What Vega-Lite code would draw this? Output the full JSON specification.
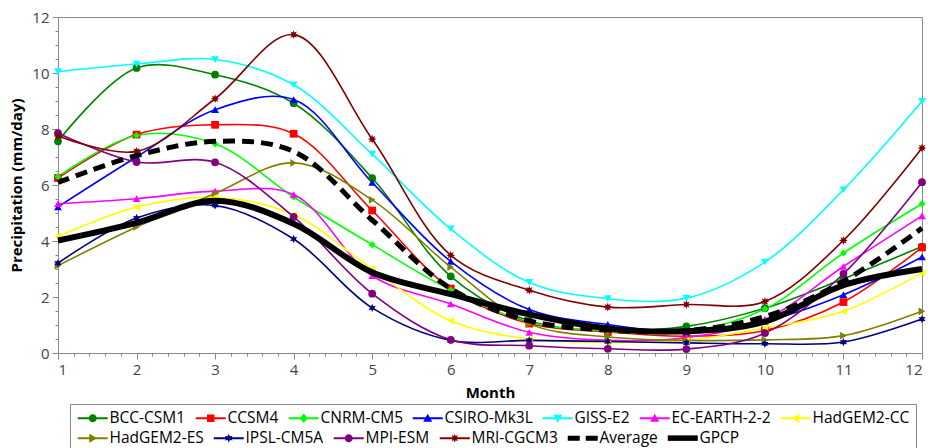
{
"$schema": "https://vega.github.io/schema/vega-lite/v6.json",
"width": 864, "height": 336,
"autosize": {"type": "none"},
"padding": {"left": 58, "top": 17, "right": 6, "bottom": 95},
"config": {"view": {"stroke": "#888", "strokeWidth": 1}, "font": "Open Sans",
  "legend": {"labelFont": "Open Sans", "labelFontSize": 15.5, "labelColor": "#000", "labelLimit": 300, "symbolSize": 100, "symbolOffset": 9, "labelOffset": 9, "columnPadding": 8, "symbolStrokeWidth": 0, "padding": 6, "direction": "horizontal", "orient": "none"},
  "axis": {"labelFont": "Open Sans", "labelFontSize": 15, "labelColor": "#444", "titleFont": "Open Sans", "titleFontSize": 15, "titleFontWeight": "bold", "titleColor": "#000", "domainColor": "#888", "tickColor": "#888", "grid": false}},
"data": {"values": [
{"Model":"BCC-CSM1","Month":1,"P":7.56},{"Model":"BCC-CSM1","Month":2,"P":10.18},{"Model":"BCC-CSM1","Month":3,"P":9.94},{"Model":"BCC-CSM1","Month":4,"P":8.92},{"Model":"BCC-CSM1","Month":5,"P":6.25},{"Model":"BCC-CSM1","Month":6,"P":2.74},{"Model":"BCC-CSM1","Month":7,"P":1.15},{"Model":"BCC-CSM1","Month":8,"P":0.8},{"Model":"BCC-CSM1","Month":9,"P":0.95},{"Model":"BCC-CSM1","Month":10,"P":1.6},{"Model":"BCC-CSM1","Month":11,"P":2.65},{"Model":"BCC-CSM1","Month":12,"P":3.8},
{"Model":"CCSM4","Month":1,"P":6.25},{"Model":"CCSM4","Month":2,"P":7.8},{"Model":"CCSM4","Month":3,"P":8.15},{"Model":"CCSM4","Month":4,"P":7.83},{"Model":"CCSM4","Month":5,"P":5.09},{"Model":"CCSM4","Month":6,"P":2.3},{"Model":"CCSM4","Month":7,"P":1.05},{"Model":"CCSM4","Month":8,"P":0.75},{"Model":"CCSM4","Month":9,"P":0.6},{"Model":"CCSM4","Month":10,"P":0.8},{"Model":"CCSM4","Month":11,"P":1.82},{"Model":"CCSM4","Month":12,"P":3.77},
{"Model":"CNRM-CM5","Month":1,"P":6.3},{"Model":"CNRM-CM5","Month":2,"P":7.77},{"Model":"CNRM-CM5","Month":3,"P":7.47},{"Model":"CNRM-CM5","Month":4,"P":5.57},{"Model":"CNRM-CM5","Month":5,"P":3.87},{"Model":"CNRM-CM5","Month":6,"P":2.25},{"Model":"CNRM-CM5","Month":7,"P":1.1},{"Model":"CNRM-CM5","Month":8,"P":0.78},{"Model":"CNRM-CM5","Month":9,"P":0.75},{"Model":"CNRM-CM5","Month":10,"P":1.57},{"Model":"CNRM-CM5","Month":11,"P":3.57},{"Model":"CNRM-CM5","Month":12,"P":5.33},
{"Model":"CSIRO-Mk3L","Month":1,"P":5.22},{"Model":"CSIRO-Mk3L","Month":2,"P":7.0},{"Model":"CSIRO-Mk3L","Month":3,"P":8.69},{"Model":"CSIRO-Mk3L","Month":4,"P":9.05},{"Model":"CSIRO-Mk3L","Month":5,"P":6.09},{"Model":"CSIRO-Mk3L","Month":6,"P":3.27},{"Model":"CSIRO-Mk3L","Month":7,"P":1.55},{"Model":"CSIRO-Mk3L","Month":8,"P":1.02},{"Model":"CSIRO-Mk3L","Month":9,"P":0.75},{"Model":"CSIRO-Mk3L","Month":10,"P":1.13},{"Model":"CSIRO-Mk3L","Month":11,"P":2.08},{"Model":"CSIRO-Mk3L","Month":12,"P":3.43},
{"Model":"GISS-E2","Month":1,"P":10.05},{"Model":"GISS-E2","Month":2,"P":10.32},{"Model":"GISS-E2","Month":3,"P":10.48},{"Model":"GISS-E2","Month":4,"P":9.58},{"Model":"GISS-E2","Month":5,"P":7.1},{"Model":"GISS-E2","Month":6,"P":4.43},{"Model":"GISS-E2","Month":7,"P":2.52},{"Model":"GISS-E2","Month":8,"P":1.94},{"Model":"GISS-E2","Month":9,"P":1.96},{"Model":"GISS-E2","Month":10,"P":3.25},{"Model":"GISS-E2","Month":11,"P":5.83},{"Model":"GISS-E2","Month":12,"P":8.99},
{"Model":"EC-EARTH-2-2","Month":1,"P":5.33},{"Model":"EC-EARTH-2-2","Month":2,"P":5.51},{"Model":"EC-EARTH-2-2","Month":3,"P":5.78},{"Model":"EC-EARTH-2-2","Month":4,"P":5.66},{"Model":"EC-EARTH-2-2","Month":5,"P":2.76},{"Model":"EC-EARTH-2-2","Month":6,"P":1.75},{"Model":"EC-EARTH-2-2","Month":7,"P":0.74},{"Model":"EC-EARTH-2-2","Month":8,"P":0.45},{"Model":"EC-EARTH-2-2","Month":9,"P":0.55},{"Model":"EC-EARTH-2-2","Month":10,"P":1.2},{"Model":"EC-EARTH-2-2","Month":11,"P":3.09},{"Model":"EC-EARTH-2-2","Month":12,"P":4.9},
{"Model":"HadGEM2-CC","Month":1,"P":4.16},{"Model":"HadGEM2-CC","Month":2,"P":5.21},{"Model":"HadGEM2-CC","Month":3,"P":5.55},{"Model":"HadGEM2-CC","Month":4,"P":4.94},{"Model":"HadGEM2-CC","Month":5,"P":3.0},{"Model":"HadGEM2-CC","Month":6,"P":1.15},{"Model":"HadGEM2-CC","Month":7,"P":0.5},{"Model":"HadGEM2-CC","Month":8,"P":0.38},{"Model":"HadGEM2-CC","Month":9,"P":0.45},{"Model":"HadGEM2-CC","Month":10,"P":0.89},{"Model":"HadGEM2-CC","Month":11,"P":1.49},{"Model":"HadGEM2-CC","Month":12,"P":2.86},
{"Model":"HadGEM2-ES","Month":1,"P":3.12},{"Model":"HadGEM2-ES","Month":2,"P":4.5},{"Model":"HadGEM2-ES","Month":3,"P":5.7},{"Model":"HadGEM2-ES","Month":4,"P":6.79},{"Model":"HadGEM2-ES","Month":5,"P":5.47},{"Model":"HadGEM2-ES","Month":6,"P":3.07},{"Model":"HadGEM2-ES","Month":7,"P":1.04},{"Model":"HadGEM2-ES","Month":8,"P":0.57},{"Model":"HadGEM2-ES","Month":9,"P":0.45},{"Model":"HadGEM2-ES","Month":10,"P":0.47},{"Model":"HadGEM2-ES","Month":11,"P":0.62},{"Model":"HadGEM2-ES","Month":12,"P":1.49},
{"Model":"IPSL-CM5A","Month":1,"P":3.21},{"Model":"IPSL-CM5A","Month":2,"P":4.82},{"Model":"IPSL-CM5A","Month":3,"P":5.27},{"Model":"IPSL-CM5A","Month":4,"P":4.07},{"Model":"IPSL-CM5A","Month":5,"P":1.61},{"Model":"IPSL-CM5A","Month":6,"P":0.45},{"Model":"IPSL-CM5A","Month":7,"P":0.45},{"Model":"IPSL-CM5A","Month":8,"P":0.41},{"Model":"IPSL-CM5A","Month":9,"P":0.36},{"Model":"IPSL-CM5A","Month":10,"P":0.33},{"Model":"IPSL-CM5A","Month":11,"P":0.39},{"Model":"IPSL-CM5A","Month":12,"P":1.21},
{"Model":"MPI-ESM","Month":1,"P":7.85},{"Model":"MPI-ESM","Month":2,"P":6.82},{"Model":"MPI-ESM","Month":3,"P":6.81},{"Model":"MPI-ESM","Month":4,"P":4.86},{"Model":"MPI-ESM","Month":5,"P":2.12},{"Model":"MPI-ESM","Month":6,"P":0.47},{"Model":"MPI-ESM","Month":7,"P":0.26},{"Model":"MPI-ESM","Month":8,"P":0.15},{"Model":"MPI-ESM","Month":9,"P":0.14},{"Model":"MPI-ESM","Month":10,"P":0.71},{"Model":"MPI-ESM","Month":11,"P":2.83},{"Model":"MPI-ESM","Month":12,"P":6.1},
{"Model":"MRI-CGCM3","Month":1,"P":7.75},{"Model":"MRI-CGCM3","Month":2,"P":7.2},{"Model":"MRI-CGCM3","Month":3,"P":9.08},{"Model":"MRI-CGCM3","Month":4,"P":11.37},{"Model":"MRI-CGCM3","Month":5,"P":7.64},{"Model":"MRI-CGCM3","Month":6,"P":3.49},{"Model":"MRI-CGCM3","Month":7,"P":2.24},{"Model":"MRI-CGCM3","Month":8,"P":1.64},{"Model":"MRI-CGCM3","Month":9,"P":1.73},{"Model":"MRI-CGCM3","Month":10,"P":1.84},{"Model":"MRI-CGCM3","Month":11,"P":4.02},{"Model":"MRI-CGCM3","Month":12,"P":7.32},
{"Model":"Average","Month":1,"P":6.09},{"Model":"Average","Month":2,"P":7.05},{"Model":"Average","Month":3,"P":7.56},{"Model":"Average","Month":4,"P":7.2},{"Model":"Average","Month":5,"P":4.75},{"Model":"Average","Month":6,"P":2.3},{"Model":"Average","Month":7,"P":1.15},{"Model":"Average","Month":8,"P":0.82},{"Model":"Average","Month":9,"P":0.8},{"Model":"Average","Month":10,"P":1.3},{"Model":"Average","Month":11,"P":2.56},{"Model":"Average","Month":12,"P":4.46},
{"Model":"GPCP","Month":1,"P":4.02},{"Model":"GPCP","Month":2,"P":4.65},{"Model":"GPCP","Month":3,"P":5.44},{"Model":"GPCP","Month":4,"P":4.62},{"Model":"GPCP","Month":5,"P":2.88},{"Model":"GPCP","Month":6,"P":2.1},{"Model":"GPCP","Month":7,"P":1.38},{"Model":"GPCP","Month":8,"P":0.88},{"Model":"GPCP","Month":9,"P":0.78},{"Model":"GPCP","Month":10,"P":1.12},{"Model":"GPCP","Month":11,"P":2.42},{"Model":"GPCP","Month":12,"P":3.0}
]},
"encoding": {
  "x": {"field": "Month", "type": "quantitative", "scale": {"domain": [1, 12], "nice": false, "zero": false}, "axis": null},
  "y": {"field": "P", "type": "quantitative", "scale": {"domain": [0, 12], "nice": false}, "axis": null}
},
"layer": [
{
 "transform": [{"filter": "datum.Model !== 'Average' && datum.Model !== 'GPCP'"}],
 "mark": {"type": "line", "interpolate": "catmull-rom", "strokeWidth": 1.6},
 "encoding": {
  "x": {"field": "Month", "type": "quantitative",
        "axis": {"orient": "bottom", "values": [1,2,3,4,5,6,7,8,9,10,11,12], "title": "Month", "tickSize": 6, "labelPadding": 3, "titlePadding": 8}},
  "y": {"field": "P", "type": "quantitative",
        "axis": {"orient": "left", "values": [0,2,4,6,8,10,12], "title": "Precipitation (mm/day)", "tickSize": 6, "labelPadding": 3, "titlePadding": 7}},
  "stroke": {"field": "Model", "type": "nominal", "legend": null,
   "scale": {"domain": ["BCC-CSM1","CCSM4","CNRM-CM5","CSIRO-Mk3L","GISS-E2","EC-EARTH-2-2","HadGEM2-CC","HadGEM2-ES","IPSL-CM5A","MPI-ESM","MRI-CGCM3"],
             "range": ["#008000","#ff0000","#00ff00","#0000ff","#00ffff","#ff00ff","#ffff00","#808000","#000080","#800080","#800000"]}}
 }
},
{
 "transform": [{"filter": "datum.Model === 'BCC-CSM1'"}],
 "mark": {"type": "point", "filled": true, "size": 60, "opacity": 1, "shape": "circle", "color": "#008000"},
 "encoding": {
  "x": {"field": "Month", "type": "quantitative",
        "axis": {"orient": "bottom", "values": [1.2,1.4,1.6,1.8,2.2,2.4,2.6,2.8,3.2,3.4,3.6,3.8,4.2,4.4,4.6,4.8,5.2,5.4,5.6,5.8,6.2,6.4,6.6,6.8,7.2,7.4,7.6,7.8,8.2,8.4,8.6,8.8,9.2,9.4,9.6,9.8,10.2,10.4,10.6,10.8,11.2,11.4,11.6,11.8], "labels": false, "domain": false, "tickSize": 3, "title": null}},
  "y": {"field": "P", "type": "quantitative",
        "axis": {"orient": "left", "values": [0.5,1,1.5,2.5,3,3.5,4.5,5,5.5,6.5,7,7.5,8.5,9,9.5,10.5,11,11.5], "labels": false, "domain": false, "tickSize": 3, "title": null}}
 }
},
{"transform": [{"filter": "datum.Model === 'CCSM4'"}], "mark": {"type": "point", "filled": true, "size": 60, "opacity": 1, "shape": "square", "color": "#ff0000"}},
{"transform": [{"filter": "datum.Model === 'CNRM-CM5'"}], "mark": {"type": "point", "filled": true, "size": 50, "opacity": 1, "shape": "diamond", "color": "#00ff00"}},
{"transform": [{"filter": "datum.Model === 'CSIRO-Mk3L'"}], "mark": {"type": "point", "filled": true, "size": 60, "opacity": 1, "shape": "triangle-up", "color": "#0000ff"}},
{"transform": [{"filter": "datum.Model === 'GISS-E2'"}], "mark": {"type": "point", "filled": true, "size": 60, "opacity": 1, "shape": "triangle-down", "color": "#00ffff"}},
{"transform": [{"filter": "datum.Model === 'EC-EARTH-2-2'"}], "mark": {"type": "point", "filled": true, "size": 60, "opacity": 1, "shape": "triangle-up", "color": "#ff00ff"}},
{"transform": [{"filter": "datum.Model === 'HadGEM2-CC'"}], "mark": {"type": "point", "filled": true, "size": 60, "opacity": 1, "shape": "triangle-left", "color": "#ffff00"}},
{"transform": [{"filter": "datum.Model === 'HadGEM2-ES'"}], "mark": {"type": "point", "filled": true, "size": 60, "opacity": 1, "shape": "triangle-right", "color": "#808000"}},
{"transform": [{"filter": "datum.Model === 'IPSL-CM5A'"}], "mark": {"type": "point", "filled": true, "size": 70, "opacity": 1, "shape": "M0,-1L0.25,-0.43L0.87,-0.5L0.5,0L0.87,0.5L0.25,0.43L0,1L-0.25,0.43L-0.87,0.5L-0.5,0L-0.87,-0.5L-0.25,-0.43Z", "color": "#000080"}},
{"transform": [{"filter": "datum.Model === 'MPI-ESM'"}], "mark": {"type": "point", "filled": true, "size": 60, "opacity": 1, "shape": "circle", "color": "#800080"}},
{"transform": [{"filter": "datum.Model === 'MRI-CGCM3'"}], "mark": {"type": "point", "filled": true, "size": 80, "opacity": 1, "shape": "M0,-1L0.19,-0.46L0.71,-0.71L0.46,-0.19L1,0L0.46,0.19L0.71,0.71L0.19,0.46L0,1L-0.19,0.46L-0.71,0.71L-0.46,0.19L-1,0L-0.46,-0.19L-0.71,-0.71L-0.19,-0.46Z", "color": "#800000"}},
{
 "transform": [{"filter": "datum.Model === 'Average'"}],
 "mark": {"type": "line", "interpolate": "catmull-rom", "strokeWidth": 5, "strokeDash": [12, 7], "color": "#000"}
},
{
 "transform": [{"filter": "datum.Model === 'GPCP'"}],
 "mark": {"type": "line", "interpolate": "catmull-rom", "strokeWidth": 6, "color": "#000"}
},
{
 "transform": [{"filter": "datum.Month > 99"}],
 "mark": {"type": "point", "filled": true, "size": 100, "opacity": 1},
 "encoding": {
  "color": {"field": "Model", "type": "nominal",
   "scale": {"domain": ["BCC-CSM1","CCSM4","CNRM-CM5","CSIRO-Mk3L","GISS-E2","EC-EARTH-2-2","HadGEM2-CC"],
             "range": ["#008000","#ff0000","#00ff00","#0000ff","#00ffff","#ff00ff","#ffff00"]},
   "legend": {"legendX": 12, "legendY": 387, "title": " ", "titleOrient": "bottom", "titleFontSize": 18, "titlePadding": 2, "strokeColor": "#888"}},
  "shape": {"field": "Model", "type": "nominal",
   "scale": {"domain": ["BCC-CSM1","CCSM4","CNRM-CM5","CSIRO-Mk3L","GISS-E2","EC-EARTH-2-2","HadGEM2-CC"],
             "range": ["M-3,-0.2H3V0.2H-3ZM0.8,0A0.8,0.8,0,1,1,-0.8,0A0.8,0.8,0,1,1,0.8,0Z","M-3,-0.2H3V0.2H-3ZM-0.75,-0.75H0.75V0.75H-0.75Z","M-3,-0.2H3V0.2H-3ZM0,-0.95L0.8,0L0,0.95L-0.8,0Z","M-3,-0.2H3V0.2H-3ZM0,-0.9L0.9,0.7H-0.9Z","M-3,-0.2H3V0.2H-3ZM0,0.9L-0.9,-0.7H0.9Z","M-3,-0.2H3V0.2H-3ZM0,-0.9L0.9,0.7H-0.9Z","M-3,-0.2H3V0.2H-3ZM-0.9,0L0.7,-0.9V0.9Z"]},
   "legend": {"legendX": 12, "legendY": 387, "title": " ", "titleOrient": "bottom", "titleFontSize": 18, "titlePadding": 2, "strokeColor": "#888"}}
 }
},
{
 "transform": [{"filter": "datum.Month > 99"}],
 "mark": {"type": "point", "filled": true, "size": 100, "opacity": 1},
 "encoding": {
  "fill": {"field": "Model", "type": "nominal",
   "scale": {"domain": ["HadGEM2-ES","IPSL-CM5A","MPI-ESM","MRI-CGCM3","Average","GPCP"],
             "range": ["#808000","#000080","#800080","#800000","#000000","#000000"]},
   "legend": {"legendX": 12, "legendY": 407, "title": null}},
  "shape": {"field": "Model", "type": "nominal",
   "scale": {"domain": ["HadGEM2-ES","IPSL-CM5A","MPI-ESM","MRI-CGCM3","Average","GPCP"],
             "range": ["M-3,-0.2H3V0.2H-3ZM0.9,0L-0.7,0.9V-0.9Z","M-3,-0.2H3V0.2H-3ZM0,-0.9L0.225,-0.39L0.78,-0.45L0.45,0L0.78,0.45L0.225,0.39L0,0.9L-0.225,0.39L-0.78,0.45L-0.45,0L-0.78,-0.45L-0.225,-0.39Z","M-3,-0.2H3V0.2H-3ZM0.8,0A0.8,0.8,0,1,1,-0.8,0A0.8,0.8,0,1,1,0.8,0Z","M-3,-0.2H3V0.2H-3ZM0,-0.9L0.17,-0.42L0.64,-0.64L0.42,-0.17L0.9,0L0.42,0.17L0.64,0.64L0.17,0.42L0,0.9L-0.17,0.42L-0.64,0.64L-0.42,0.17L-0.9,0L-0.42,-0.17L-0.64,-0.64L-0.17,-0.42Z","M-3,-0.5H-0.6V0.5H-3ZM0.6,-0.5H3V0.5H0.6Z","M-3,-0.55H3V0.55H-3Z"]},
   "legend": {"legendX": 12, "legendY": 407, "title": null}}
 }
}
],
"resolve": {"axis": {"x": "independent", "y": "independent"}, "scale": {"color": "independent", "fill": "independent", "shape": "independent"}}
}
